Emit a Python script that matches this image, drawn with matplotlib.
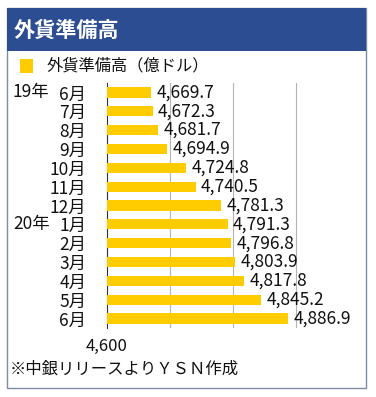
import matplotlib
matplotlib.use("Agg")
import matplotlib.pyplot as plt
from matplotlib.patches import Rectangle
from matplotlib.transforms import blended_transform_factory

plt.rcParams['font.family'] = ['Noto Sans CJK JP', 'DejaVu Sans']

months = ['6月', '7月', '8月', '9月', '10月', '11月', '12月', '1月', '2月', '3月', '4月', '5月', '6月']
years = {0: '19年', 7: '20年'}
values = [4669.7, 4672.3, 4681.7, 4694.9, 4724.8, 4740.5, 4781.3, 4791.3, 4796.8, 4803.9, 4817.8, 4845.2, 4886.9]
xticks = [4600, 4700, 4800, 4900]
xticklabels = ['4,600', '', '', '']
title = '外貨準備高'
legend_label = '外貨準備高（億ドル）'
footer = '※中銀リリースよりＹＳＮ作成'

W, H = 376, 397
fig = plt.figure(figsize=(W / 100, H / 100), dpi=100)

def fx(px):
    return px / W

def fy(py):
    return 1 - py / H

# frame and header
fig.patches.append(Rectangle((fx(7), fy(388)), fx(366) - fx(7), fy(8) - fy(388),
                             transform=fig.transFigure, facecolor='white',
                             edgecolor='#7d8ca3', linewidth=1.0, zorder=-2))
fig.patches.append(Rectangle((fx(7), fy(51)), fx(366) - fx(7), fy(8) - fy(51),
                             transform=fig.transFigure, facecolor='#2c4d91',
                             edgecolor='none', zorder=-1))
fig.text(fx(14), fy(30), title, color='white', fontsize=15.2, fontweight='bold',
         va='center', ha='left')

# legend
fig.patches.append(Rectangle((fx(20), fy(73)), fx(33) - fx(20), fy(59) - fy(73),
                             transform=fig.transFigure, facecolor='#FFCC00',
                             edgecolor='none', zorder=-1))
fig.text(fx(47), fy(66), legend_label, fontsize=11.7, va='center', ha='left', color='#111111')

ax = fig.add_axes([fx(107), fy(328), fx(359) - fx(107), fy(83) - fy(328)])
ax.set_zorder(2)
y = list(range(len(values)))
ax.barh(y, values, height=0.54, left=0, color='#FFCC00', zorder=3)
ax.set_xlim(4600, 5000)
ax.set_ylim(len(values) - 0.5, -0.5)
ax.set_xticks(xticks)
ax.set_xticklabels(xticklabels, fontsize=12)
ax.tick_params(axis='x', length=0, pad=7, colors='#111111')
ax.set_yticks(y)
ax.set_yticklabels(months, fontsize=12.5)
ax.tick_params(axis='y', length=0, pad=15, colors='#111111')
ax.grid(axis='x', color='#b5b5b5', linewidth=0.8, zorder=0)
ax.set_axisbelow(True)
for s in ['top', 'right', 'bottom']:
    ax.spines[s].set_visible(False)
ax.spines['left'].set_color('#333333')
ax.spines['left'].set_linewidth(0.8)
ax.patch.set_alpha(0)

for yi, v in zip(y, values):
    ax.annotate(f'{v:,.1f}', (v, yi), xytext=(4, 0), textcoords='offset points',
                va='center', ha='left', fontsize=12.5, color='#111111', zorder=4)

tr = blended_transform_factory(fig.transFigure, ax.transData)
for idx, yr in years.items():
    ax.text(fx(13), idx, yr, transform=tr, fontsize=12.5, va='center', ha='left',
            color='#111111', clip_on=False)

fig.text(fx(10), fy(369), footer, fontsize=11.8, va='center', ha='left', color='#111111')

fig.savefig('out.png', dpi=100)
